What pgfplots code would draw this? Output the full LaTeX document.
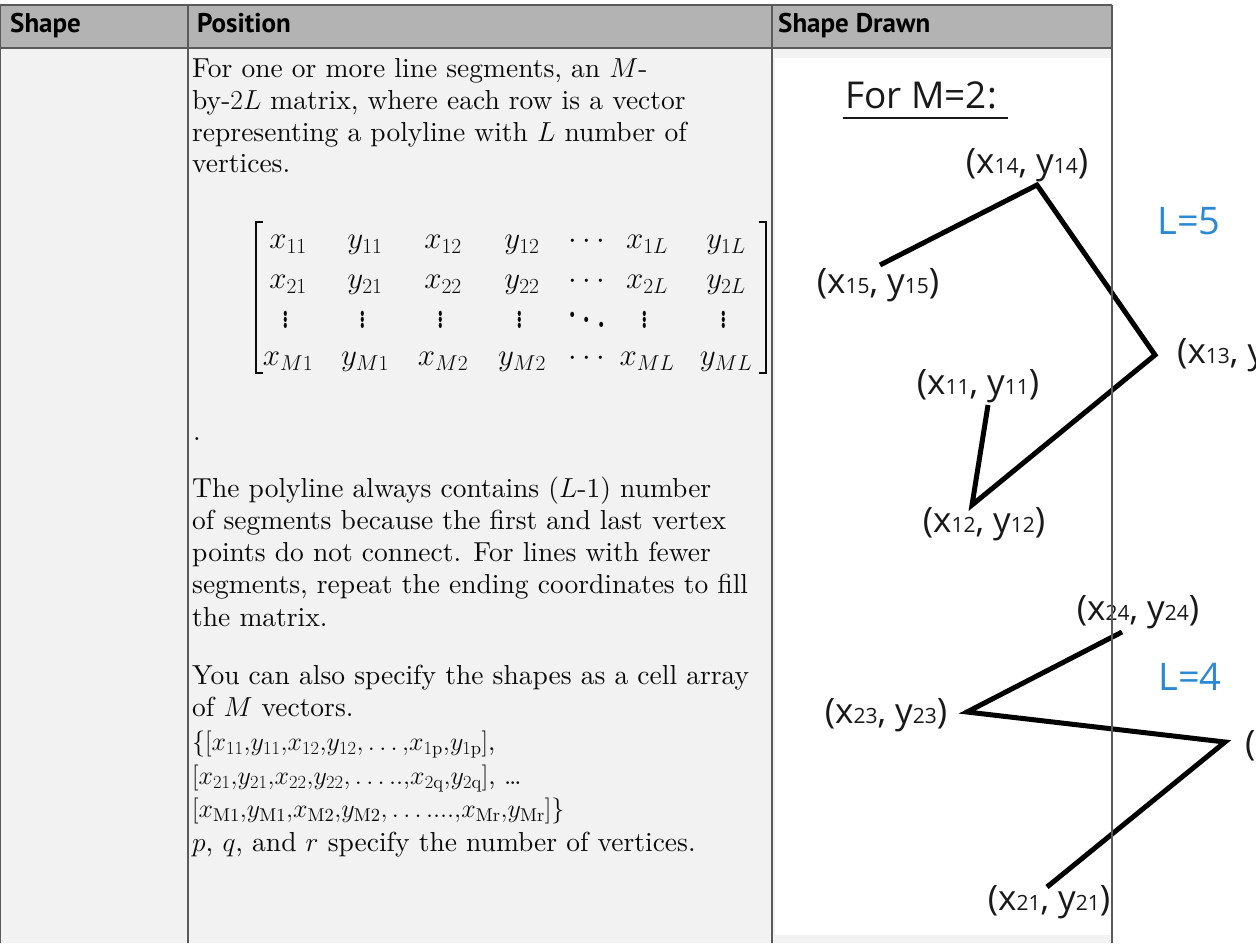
\RequirePackage{fix-cm}
\documentclass[border=0pt]{standalone}
\usepackage{pgfplots}
\pgfplotsset{compat=1.18}
\usepackage{fontspec}
\setmainfont{lmroman10-regular.otf}[BoldFont=lmroman10-bold.otf,ItalicFont=lmroman10-italic.otf,BoldItalicFont=lmroman10-bolditalic.otf]
\newfontfamily\hdfont{PT Sans}
\newfontfamily\drfont{Open Sans}
\DeclareMathSizes{27.5}{27.5}{19}{14}
\DeclareMathSizes{26}{26}{18.5}{13}
\DeclareMathSizes{31}{31}{21.5}{15}
\definecolor{hdrgray}{HTML}{B3B3B3}
\definecolor{bodygray}{HTML}{F2F2F2}
\definecolor{lineg}{HTML}{5A5A5A}
\definecolor{lblue}{HTML}{2A89D4}
\definecolor{txt}{HTML}{0A0A0A}
\newcommand{\bt}{\fontsize{27.5}{32}\selectfont}
\newcommand{\ct}{\fontsize{26}{32}\selectfont}
\newcommand{\mt}{\fontsize{31}{36}\selectfont}
\newcommand{\lb}[2]{(x{\fontsize{21}{21}\selectfont #1}, y{\fontsize{21}{21}\selectfont #2})}
\begin{document}
\begin{tikzpicture}
\useasboundingbox (0,0) rectangle (1256pt,943pt);
\clip (0,0) rectangle (1256pt,943pt);
\fill[white] (0,0) rectangle (1256pt,943pt);
\begin{scope}[x=1pt,y=-1pt,shift={(0,943pt)}]
  % table backgrounds
  \fill[hdrgray] (0,5) rectangle (1112,48);
  \fill[bodygray] (0,48) rectangle (1112,943);
  \fill[white] (775,58) rectangle (1112,935);
  % header text
  \begin{scope}[every node/.style={anchor=base west,inner sep=0pt,font=\hdfont\bfseries\fontsize{27}{27}\selectfont}]
    \node at (10,33) {Shape};
    \node at (197,33) {Position};
    \node at (778,33) {Shape Drawn};
  \end{scope}
  % body text
  \begin{scope}[every node/.style={anchor=base west,inner sep=0pt,text=txt,font=\bt}]
    \node at (192,78) {For one or more line segments, an $M$-};
    \node at (192,110) {by-$2L$ matrix, where each row is a vector};
    \node at (192,142) {representing a polyline with $L$ number of};
    \node at (192,173) {vertices.};
    \node at (193,441) {.};
    \node at (192,498) {The polyline always contains ($L$-1) number};
    \node at (192,530) {of segments because the first and last vertex};
    \node at (192,562) {points do not connect. For lines with fewer};
    \node at (192,594) {segments, repeat the ending coordinates to fill};
    \node at (192,627) {the matrix.};
    \node at (192,685) {You can also specify the shapes as a cell array};
    \node at (192,717) {of $M$ vectors.};
    \node[font=\ct] at (192,751) {$\{[x_{11}{,}y_{11}{,}x_{12}{,}y_{12}{,}\ldots{,}x_{1\mathrm{p}}{,}y_{1\mathrm{p}}]$,};
    \node[font=\ct] at (192,785) {$[x_{21}{,}y_{21}{,}x_{22}{,}y_{22}{,}\ldots{.}{.}{,}x_{2\mathrm{q}}{,}y_{2\mathrm{q}}]$, \ldots};
    \node[font=\ct] at (192,818) {$[x_{\mathrm{M1}}{,}y_{\mathrm{M1}}{,}x_{\mathrm{M2}}{,}y_{\mathrm{M2}}{,}\ldots{.}{.}{.}{.}{,}x_{\mathrm{Mr}}{,}y_{\mathrm{Mr}}]\}$};
    \node at (192,851) {$p$, $q$, and $r$ specify the number of vertices.};
  \end{scope}
  % matrix entries
  \begin{scope}[every node/.style={anchor=base,inner sep=0pt,text=txt,font=\mt}]
    \foreach \xx/\ee in {288/x_{11},365/y_{11},443/x_{12},522/y_{12},587/\cdots,647/x_{1L},726/y_{1L}}
      {\node at (\xx,249) {$\ee$};}
    \foreach \xx/\ee in {288/x_{21},365/y_{21},443/x_{22},522/y_{22},587/\cdots,647/x_{2L},726/y_{2L}}
      {\node at (\xx,289) {$\ee$};}
    \foreach \xx/\ee in {288/x_{M1},365/y_{M1},443/x_{M2},522/y_{M2},587/\cdots,647/x_{ML},726/y_{ML}}
      {\node at (\xx,366) {$\ee$};}
    \foreach \xx in {286,363,441,520,645,724}
      {\node[anchor=center] at (\xx,315) {\scalebox{1}[1.6]{$\vdots$}};}
    \node[anchor=center] at (587,315) {\scalebox{1.2}[1.6]{$\ddots$}};
  \end{scope}
  \draw[txt,line width=1.3pt] (263,222) -- (256,222) -- (256,373) -- (263,373);
  \draw[txt,line width=1.3pt] (759,222) -- (766,222) -- (766,373) -- (759,373);
\end{scope}
\begin{axis}[at={(0,0)},anchor=south west,scale only axis,
  width=1256pt,height=943pt,xmin=0,xmax=1256,ymin=0,ymax=943,
  y dir=reverse,hide axis,clip=false]
  \addplot[black,line width=5pt,line join=miter] coordinates
    {(988,405) (972,505) (1155,355) (1037,185) (880,265)};
  \addplot[black,line width=5pt,line join=miter] coordinates
    {(1047,887) (1225,742) (967,712) (1122,632)};
  \begin{scope}[every node/.style={inner sep=0pt,text=black!90,font=\drfont\fontsize{35}{35}\selectfont}]
    \node at (axis cs:1027,165) {\lb{14}{14}};
    \node at (axis cs:878,285) {\lb{15}{15}};
    \node[anchor=west] at (axis cs:1177,355) {\lb{13}{13}};
    \node at (axis cs:978,386) {\lb{11}{11}};
    \node at (axis cs:984,524) {\lb{12}{12}};
    \node at (axis cs:1138,612) {\lb{24}{24}};
    \node at (axis cs:886,715) {\lb{23}{23}};
    \node[anchor=west] at (axis cs:1245,747) {\lb{22}{22}};
    \node at (axis cs:1049,902) {\lb{21}{21}};
  \end{scope}
  \node[inner sep=0pt,text=lblue,font=\drfont\fontsize{38}{38}\selectfont] at (axis cs:1189,221) {L=5};
  \node[inner sep=0pt,text=lblue,font=\drfont\fontsize{38}{38}\selectfont] at (axis cs:1190,677) {L=4};
  \node[anchor=base west,inner sep=0pt,text=black!90,font=\drfont\fontsize{37}{37}\selectfont] at (axis cs:845,108) {For M=2:};
  \draw[black!90,line width=2.5pt] (axis cs:843,118) -- (axis cs:1008,118);
\end{axis}
\begin{scope}[x=1pt,y=-1pt,shift={(0,943pt)}]
  \draw[lineg,line width=1.3pt] (0,5) -- (1112,5);
  \draw[lineg,line width=1.3pt] (0,48) -- (1112,48);
  \foreach \xx in {0.7,188,772,1112} {\draw[lineg,line width=1.3pt] (\xx,5) -- (\xx,943);}
\end{scope}
\end{tikzpicture}
\end{document}
